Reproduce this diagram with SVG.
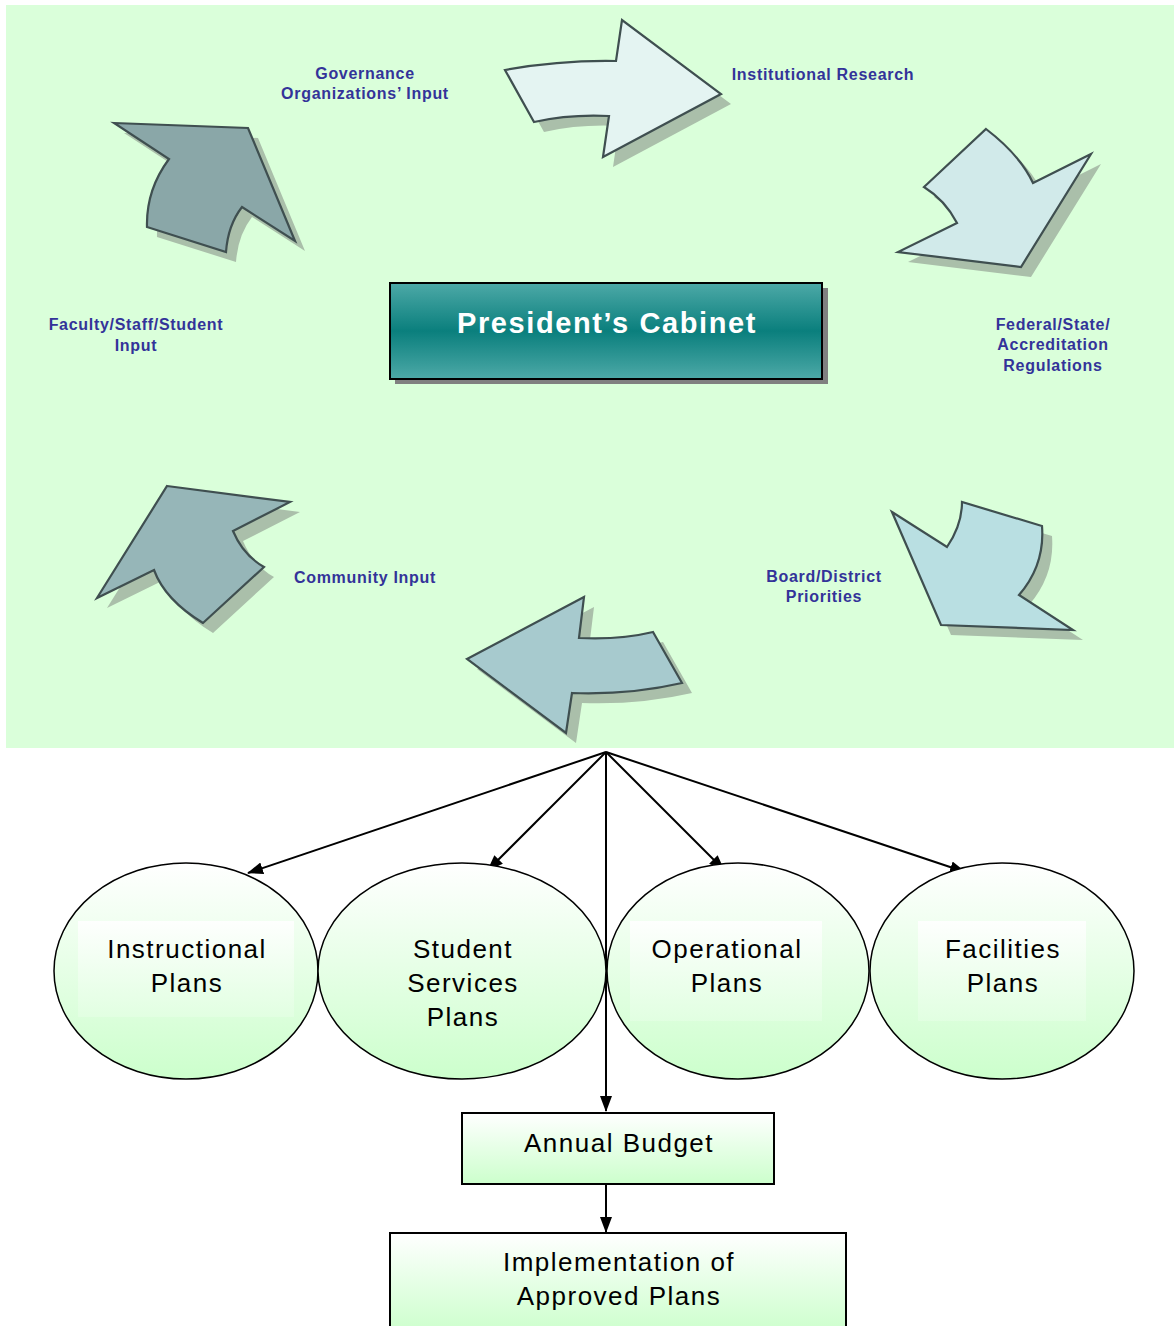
<svg xmlns="http://www.w3.org/2000/svg" width="1174" height="1326" viewBox="0 0 1174 1326">
<defs>
<style>
.lbl{font-family:"Liberation Sans",Arial,sans-serif;font-weight:bold;font-size:16px;letter-spacing:0.7px;fill:#333399;text-anchor:middle}
.big{font-family:"Liberation Sans",Arial,sans-serif;font-size:26px;letter-spacing:1.5px;fill:#000;text-anchor:middle}
.arr{stroke:#3f4f50;stroke-width:2.2;stroke-linejoin:miter}
.sh{fill:#aabfaa}
.conn{stroke:#000;stroke-width:2;fill:none;marker-end:url(#ah)}
.ell{fill:url(#gGreen);stroke:#000;stroke-width:1.5}
.box{fill:url(#gGreen);stroke:#000;stroke-width:2}
</style>
<linearGradient id="gGreen" x1="0" y1="0" x2="0" y2="1">
<stop offset="0" stop-color="#ffffff"/>
<stop offset="1" stop-color="#ccffcc"/>
</linearGradient>
<linearGradient id="gText" x1="0" y1="0" x2="0" y2="1">
<stop offset="0" stop-color="#ffffff" stop-opacity="0.9"/>
<stop offset="1" stop-color="#e6ffe6" stop-opacity="0.6"/>
</linearGradient>
<linearGradient id="gTeal" x1="0" y1="0" x2="0" y2="1">
<stop offset="0" stop-color="#4da9a7"/>
<stop offset="0.5" stop-color="#0a7f7d"/>
<stop offset="1" stop-color="#4da9a7"/>
</linearGradient>
<marker id="ah" viewBox="0 0 16 12" refX="15" refY="6" markerWidth="16" markerHeight="12" markerUnits="userSpaceOnUse" orient="auto">
<path d="M0,0 L16,6 L0,12 z" fill="#000"/>
</marker>
</defs>

<rect x="6" y="5" width="1168" height="743" fill="#daffda"/>

<g id="arrow-top">
<path class="sh" transform="translate(10,10)" d="M505,70 Q560,60 616,61 L622,20 L721,94 L603,157 L609,116 Q570,114 534,122 Z"/>
<path class="arr" fill="#e4f4f2" d="M505,70 Q560,60 616,61 L622,20 L721,94 L603,157 L609,116 Q570,114 534,122 Z"/>
</g>
<g id="arrow-topright">
<path class="sh" transform="translate(10,10)" d="M986,129 Q1020,155 1033,183 L1091,154 L1021,267 L898,252 L957,223 Q945,200 924,187 Z"/>
<path class="arr" fill="#d1eaea" d="M986,129 Q1020,155 1033,183 L1091,154 L1021,267 L898,252 L957,223 Q945,200 924,187 Z"/>
</g>
<g id="arrow-bottomright">
<path class="sh" transform="translate(10,10)" d="M892,512 L947,547 Q962,525 962,502 L1042,526 Q1045,565 1019,595 L1073,630 L941,625 Z"/>
<path class="arr" fill="#b9dfe2" d="M892,512 L947,547 Q962,525 962,502 L1042,526 Q1045,565 1019,595 L1073,630 L941,625 Z"/>
</g>
<g id="arrow-bottom">
<path class="sh" transform="translate(10,10)" d="M467,659 L584,597 L579,638 Q620,640 653,632 L682,683 Q630,695 572,693 L566,733 Z"/>
<path class="arr" fill="#a7cace" d="M467,659 L584,597 L579,638 Q620,640 653,632 L682,683 Q630,695 572,693 L566,733 Z"/>
</g>
<g id="arrow-bottomleft">
<path class="sh" transform="translate(10,10)" d="M167,486 L290,502 L233,531 Q243,555 264,567 L203,623 Q165,600 154,570 L97,598 Z"/>
<path class="arr" fill="#96b6b8" d="M167,486 L290,502 L233,531 Q243,555 264,567 L203,623 Q165,600 154,570 L97,598 Z"/>
</g>
<g id="arrow-topleft">
<path class="sh" transform="translate(10,10)" d="M114,123 L248,128 L295,241 L242,207 Q228,225 226,252 L147,227 Q146,190 169,159 Z"/>
<path class="arr" fill="#8aa7a8" d="M114,123 L248,128 L295,241 L242,207 Q228,225 226,252 L147,227 Q146,190 169,159 Z"/>
</g>

<g id="label-governance"><text class="lbl" x="365" y="79">Governance</text><text class="lbl" x="365" y="99">Organizations’ Input</text></g>
<g id="label-research"><text class="lbl" x="823" y="80">Institutional Research</text></g>
<g id="label-federal"><text class="lbl" x="1053" y="330">Federal/State/</text><text class="lbl" x="1053" y="350">Accreditation</text><text class="lbl" x="1053" y="371">Regulations</text></g>
<g id="label-board"><text class="lbl" x="824" y="582">Board/District</text><text class="lbl" x="824" y="602">Priorities</text></g>
<g id="label-community"><text class="lbl" x="365" y="583">Community Input</text></g>
<g id="label-faculty"><text class="lbl" x="136" y="330">Faculty/Staff/Student</text><text class="lbl" x="136" y="351">Input</text></g>

<g id="presidents-cabinet">
<rect x="395" y="288" width="433" height="96" fill="#808080"/>
<rect x="390" y="283" width="432" height="96" fill="url(#gTeal)" stroke="#000" stroke-width="2"/>
<text x="607" y="333" font-family="'Liberation Sans',Arial,sans-serif" font-weight="bold" font-size="29" letter-spacing="1.6" fill="#fff" text-anchor="middle">President’s Cabinet</text>
</g>

<g id="connectors">
<line class="conn" x1="606" y1="752" x2="248" y2="873"/>
<line class="conn" x1="606" y1="752" x2="488" y2="870"/>
<line class="conn" x1="606" y1="752" x2="606" y2="1111"/>
<line class="conn" x1="606" y1="752" x2="724" y2="870"/>
<line class="conn" x1="606" y1="752" x2="965" y2="872"/>
<line class="conn" x1="606" y1="1185" x2="606" y2="1232"/>
</g>

<g id="instructional-plans">
<ellipse class="ell" cx="186" cy="971" rx="132" ry="108"/>
<rect x="78" y="921" width="216" height="96" fill="url(#gText)"/>
<text class="big" x="187" y="958">Instructional</text>
<text class="big" x="187" y="992">Plans</text>
</g>
<g id="student-services-plans">
<ellipse class="ell" cx="462" cy="971" rx="144" ry="108"/>
<text class="big" x="463" y="958">Student</text>
<text class="big" x="463" y="992">Services</text>
<text class="big" x="463" y="1026">Plans</text>
</g>
<g id="operational-plans">
<ellipse class="ell" cx="738" cy="971" rx="131" ry="108"/>
<rect x="630" y="921" width="192" height="100" fill="url(#gText)"/>
<text class="big" x="727" y="958">Operational</text>
<text class="big" x="727" y="992">Plans</text>
</g>
<g id="facilities-plans">
<ellipse class="ell" cx="1002" cy="971" rx="132" ry="108"/>
<rect x="918" y="921" width="168" height="100" fill="url(#gText)"/>
<text class="big" x="1003" y="958">Facilities</text>
<text class="big" x="1003" y="992">Plans</text>
</g>
<g id="annual-budget">
<rect class="box" x="462" y="1113" width="312" height="71"/>
<text class="big" x="619" y="1152">Annual Budget</text>
</g>
<g id="implementation">
<rect class="box" x="390" y="1233" width="456" height="100"/>
<text class="big" x="619" y="1271">Implementation of</text>
<text class="big" x="619" y="1305">Approved Plans</text>
</g>
</svg>
